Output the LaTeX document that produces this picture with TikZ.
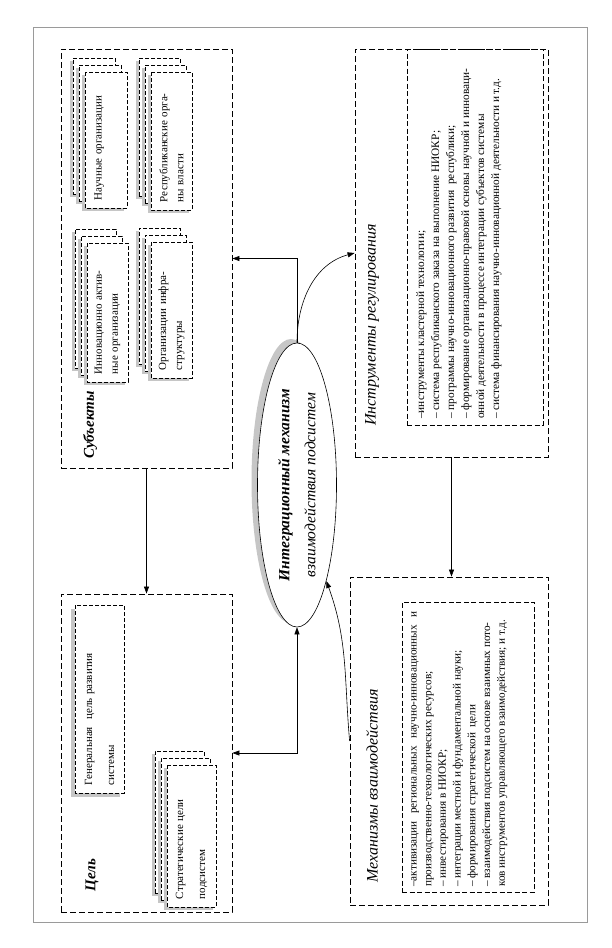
\documentclass[tikz,border=0pt]{standalone}
\usepackage{fontspec}
\setmainfont{Liberation Serif}
\usetikzlibrary{arrows.meta,shapes.geometric}
\definecolor{framegray}{HTML}{9A9A9A}
\definecolor{shadowgray}{HTML}{C6C6C6}

% three cards stacked, the front one carries the text
\newcommand{\cardstack}[6]{%
  \pgfmathsetmacro\cardtw{#5-16}%
  \node[cardshade,minimum width=#4pt,minimum height=#5pt] (#1sa) at (#2-15,#3-11) {};
  \node[card,minimum width=#4pt,minimum height=#5pt] (#1a) at (#2-12,#3-14) {};
  \node[cardshade,minimum width=#4pt,minimum height=#5pt] (#1sb) at (#2-9,#3-4) {};
  \node[card,minimum width=#4pt,minimum height=#5pt] (#1b) at (#2-6,#3-7) {};
  \node[cardshade,minimum width=#4pt,minimum height=#5pt] (#1sc) at (#2-3,#3+3) {};
  \node[card,cardtext,minimum width=#5pt,minimum height=#4pt,text width=\cardtw pt] (#1) at (#2,#3) {#6};
}

\begin{document}
\begin{tikzpicture}[
  x=1pt,y=-1pt,
  line width=0.6pt,
  grp/.style={draw,dash pattern=on 6pt off 3pt,line width=0.8pt},
  innerbox/.style={draw,dash pattern=on 5pt off 2.5pt,line width=0.8pt},
  card/.style={draw,fill=white,dash pattern=on 4pt off 2pt,line width=0.8pt,inner sep=0pt},
  cardshade/.style={fill=shadowgray,draw=none,inner sep=0pt},
  cardtext/.style={rotate=90,align=left,inner xsep=8pt,font=\fontsize{11}{16}\selectfont},
  grptitle/.style={rotate=90,font=\fontsize{16}{19}\selectfont\itshape},
  listtext/.style={rotate=90,align=left,anchor=north west,inner sep=0pt},
  flow/.style={-{Triangle[length=7pt,width=5pt]}},
]
\useasboundingbox (0,0) rectangle (611,948);
\node[draw=framegray,line width=0.8pt,minimum width=554pt,minimum height=895pt] (page) at (310,474.5) {};

% the four groups
\node[grp,minimum width=171pt,minimum height=419pt] (subj) at (146.5,258.5) {};
\node[grp,minimum width=171pt,minimum height=318pt] (goal) at (146.5,753) {};
\node[grp,minimum width=193pt,minimum height=408pt] (inst) at (451.5,253) {};
\node[grp,minimum width=198pt,minimum height=328pt] (mech) at (449,741) {};
\node[innerbox,minimum width=136pt,minimum height=376pt] (instbox) at (475,237) {};
\node[innerbox,minimum width=132pt,minimum height=290pt] (mechbox) at (468,747) {};

\node[grptitle,font=\fontsize{15}{18}\selectfont\bfseries\itshape] (subjtitle) at (90,425) {Субъекты};
\node[grptitle,font=\fontsize{15}{18}\selectfont\bfseries\itshape] (goaltitle) at (92,875) {Цель};
\node[grptitle] (insttitle) at (372,325) {Инструменты регулирования};
\node[grptitle] (mechtitle) at (372,786) {Механизмы взаимодействия};

\cardstack{sci}{106}{140}{42}{136}{Научные организации\\\mbox{}}
\cardstack{rep}{171.5}{141}{41}{138}{Республиканские орга-\\ны власти}
\cardstack{inn}{107.5}{312.5}{41}{139}{Инновационно актив-\\ные организации}
\cardstack{infra}{171.5}{310}{41}{136}{Организации инфра-\\структуры}
\cardstack{strat}{191.5}{836}{49}{142}{Стратегические цели\\[6pt]подсистем}

\node[cardshade,minimum width=49pt,minimum height=188pt] (gensh) at (95.5,703) {};
\node[card,cardtext,minimum width=188pt,minimum height=49pt,text width=172pt] (gen) at (99.5,699)
  {Генеральная \ цель развития\\[6pt]системы};

\node[listtext,font=\fontsize{11.3}{15}\selectfont] (insttext) at (416,419)
  {–инструменты кластерной технологии;\\
   – система республиканского заказа на выполнение НИОКР;\\
   – программы научно-инновационного развития \ республики;\\
   – формирование организационно-правовой основы научной и инноваци-\\
   онной деятельности в процессе интеграции субъектов системы\\
   – система финансирования научно-инновационной деятельности и т.д.};
\node[listtext,font=\fontsize{11.2}{14.7}\selectfont] (mechtext) at (411,887)
  {\hbox to 275pt{–активизации региональных научно-инновационных и}\\
   производственно-технологических ресурсов;\\
   – инвестирования в НИОКР;\\
   – интеграции местной и фундаментальной науки;\\
   – формирования стратегической \ цели\\
   – взаимодействия подсистем на основе взаимных пото-\\
   ков инструментов управляющего взаимодействия; и т.д.};

% the core
\node[ellipse,fill=shadowgray,minimum width=79pt,minimum height=284pt,inner sep=0pt] (coresh) at (291,481) {};
\node[ellipse,draw,fill=white,minimum width=79pt,minimum height=284pt,inner sep=0pt] (core) at (297,485) {};
\node[rotate=90,align=center,font=\fontsize{15.5}{26}\selectfont\itshape] (coretext) at (core)
  {\bfseries Интеграционный механизм\\взаимодействия подсистем};

\draw[flow] (subj.south) -- (goal.north);
\draw[flow] (inst.south) -- (inst.south |- mech.north);
\draw[flow] (core.north) |- (subj.east);
\draw[flow] (core.north) to[out=90,in=195] (inst.west);
\draw[{Triangle[length=7pt,width=5pt]}-{Triangle[length=7pt,width=5pt]}] (goal.east) -| (core.south);
\draw[flow] (mech.west) to[out=95,in=-70] (core.-73);
\end{tikzpicture}
\end{document}
